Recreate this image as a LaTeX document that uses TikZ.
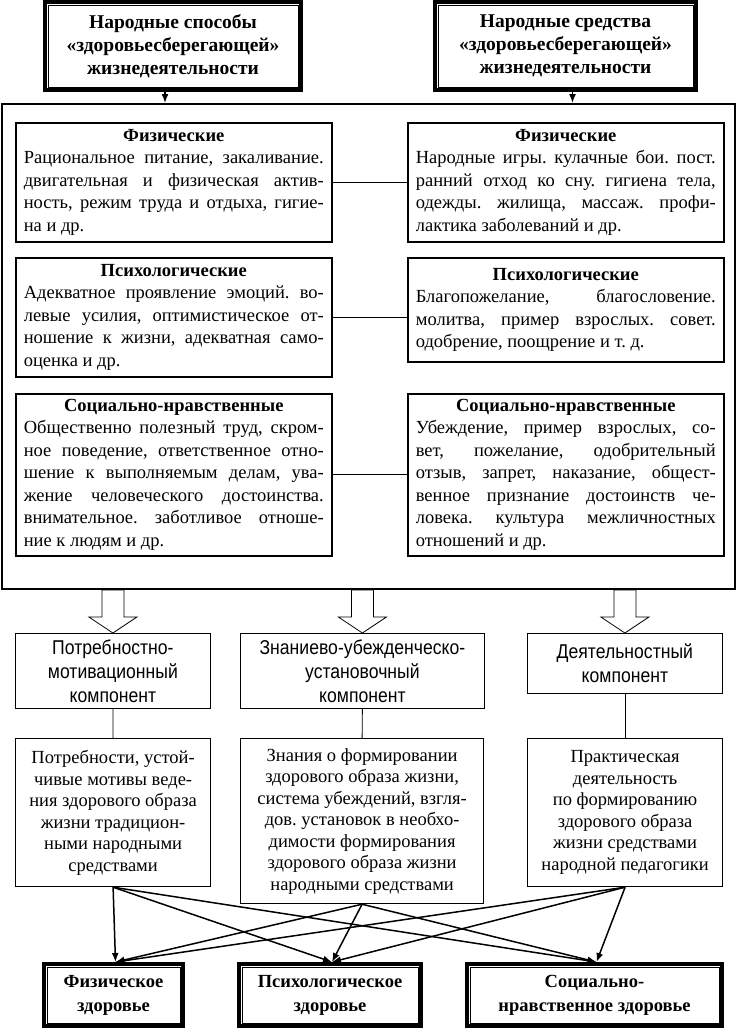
\documentclass[tikz,border=0pt]{standalone}
\usepackage{fontspec}
\setmainfont{Liberation Serif}
\newfontfamily\narrowfont{Liberation Sans}[FakeStretch=0.88]
\usepackage{tikz}
\usetikzlibrary{arrows,arrows.meta}
\setlength\parindent{0pt}
\frenchspacing
\tikzset{
  blk/.style = {anchor=north west, inner sep=0pt,
    font=\fontsize{18.5}{22.5}\selectfont},
  blk_top/.style = {blk, draw, line width=4pt, align=center,
    font=\fontsize{19.5}{23}\selectfont\bfseries},% рамка с внутренней линией
  blk_in/.style = {blk, draw, line width=1.6pt, text width=300pt,
    inner xsep=8pt, align=justify},% способы и средства
  blk_comp/.style = {blk, draw, line width=0.8pt, align=center,
    font=\narrowfont\fontsize{20}{24}\selectfont},% компоненты
  blk_desc/.style = {blk, draw, line width=1.2pt, align=center,
    font=\fontsize{18.5}{21.5}\selectfont},% описание компонента
  blk_hlth/.style = {blk_top, font=\fontsize{18.5}{24}\selectfont\bfseries}% здоровье
}
\newcommand\inhead[1]{\hfill\textbf{#1}\hfill\null\linebreak}

\begin{document}
\begin{tikzpicture}[x=1pt,y=-1pt,>={Latex[length=9pt,width=7pt]}]
  \useasboundingbox (0,0) rectangle (738,1028);
  % верх
  \node [blk_top, minimum width=256pt, minimum height=88pt] (spos) at (43,0)
    {Народные способы\\«здоровьесберегающей»\\жизнедеятельности};
  \node [blk_top, minimum width=261pt, minimum height=88pt] (sred) at (433,0)
    {Народные средства\\«здоровьесберегающей»\\жизнедеятельности};
  \node [blk, draw, line width=2pt, minimum width=733pt, minimum height=485pt] (frame) at (1,103) {};
  \draw [->, line width=1.5pt] ([xshift=-8pt]spos.south) -- ([xshift=-8pt]spos.south |- frame.north);
  \draw [->, line width=1.5pt] ([xshift=7pt]sred.south) -- ([xshift=7pt]sred.south |- frame.north);

  % способы
  \node [blk_in, minimum height=119pt] (fiz_l) at (15,122)
    {\inhead{Физические}Рациональное питание, закаливание.\linebreak
     двигательная и физическая актив-\linebreak
     ность, режим труда и отдыха, гигие-\linebreak
     на и др.};
  \node [blk_in, minimum height=119pt] (psy_l) at (15,257)
    {\inhead{Психологические}Адекватное проявление эмоций. во-\linebreak
     левые усилия, оптимистическое от-\linebreak
     ношение к жизни, адекватная само-\linebreak
     оценка и др.};
  \node [blk_in, minimum height=162pt] (soc_l) at (15,393)
    {\inhead{Социально-нравственные}Общественно полезный труд, скром-\linebreak
     ное поведение, ответственное отно-\linebreak
     шение к выполняемым делам, ува-\linebreak
     жение человеческого достоинства.\linebreak
     внимательное. заботливое отноше-\linebreak
     ние к людям и др.};
  % средства
  \node [blk_in, minimum height=119pt] (fiz_r) at (407,122)
    {\inhead{Физические}Народные игры. кулачные бои. пост.\linebreak
     ранний отход ко сну. гигиена тела,\linebreak
     одежды. жилища, массаж. профи-\linebreak
     лактика заболеваний и др.};
  \node [blk_in, minimum height=104pt] (psy_r) at (407,257)
    {\inhead{Психологические}Благопожелание, благословение.\linebreak
     молитва, пример взрослых. совет.\linebreak
     одобрение, поощрение и т. д.};
  \node [blk_in, minimum height=162pt] (soc_r) at (407,393)
    {\inhead{Социально-нравственные}Убеждение, пример взрослых, со-\linebreak
     вет, пожелание, одобрительный\linebreak
     отзыв, запрет, наказание, общест-\linebreak
     венное признание достоинств че-\linebreak
     ловека. культура межличностных\linebreak
     отношений и др.};
  \draw [line width=1.6pt] (fiz_l.east) -- (fiz_r.west);
  \draw [line width=0.8pt] (psy_l.east) -- (psy_l.east -| psy_r.west);
  \draw [line width=0.8pt] (soc_l.east) -- (soc_r.west);

  % компоненты
  \node [blk_comp, minimum width=195pt, minimum height=75pt] (comp_p) at (15,633)
    {Потребностно-\\мотивационный\\компонент};
  \node [blk_comp, minimum width=244pt, minimum height=75pt] (comp_z) at (240,633)
    {Знаниево-убежденческо-\\установочный\\компонент};
  \node [blk_comp, minimum width=195pt, minimum height=60pt] (comp_d) at (527,633)
    {Деятельностный\\компонент};
  \foreach \c in {comp_p,comp_z,comp_d}
    \draw [line width=0.8pt, fill=white] (\c.north) -- ++(-24,-16) -- ++(13,0)
      -- ([xshift=-11pt]\c.north |- frame.south) -- ([xshift=11pt]\c.north |- frame.south)
      -- ([xshift=11pt,yshift=16pt]\c.north) -- ++(13,0) -- cycle;

  \node [blk_desc, minimum width=195pt, minimum height=148pt] (desc_p) at (15,738)
    {Потребности, устой-\\чивые мотивы веде-\\ния здорового образа\\жизни традицион-\\ными народными\\средствами};
  \node [blk_desc, minimum width=243pt, minimum height=165pt] (desc_z) at (240,738)
    {Знания о формировании\\здорового образа жизни,\\система убеждений, взгля-\\дов. установок в необхо-\\димости формирования\\здорового образа жизни\\народными средствами};
  \node [blk_desc, minimum width=195pt, minimum height=148pt] (desc_d) at (527,738)
    {Практическая\\деятельность\\по формированию\\здорового образа\\жизни средствами\\народной педагогики};
  \draw [line width=0.8pt] (comp_p.south) -- (desc_p.north);
  \draw [line width=0.8pt] (comp_z.south) -- (desc_z.north);
  \draw [line width=0.8pt] (comp_d.south) -- (comp_d.south |- desc_d.north);

  % здоровье
  \node [blk_hlth, minimum width=139pt, minimum height=62pt] (h_fiz) at (42,962)
    {Физическое\\здоровье};
  \node [blk_hlth, minimum width=182pt, minimum height=62pt] (h_psy) at (237,962)
    {Психологическое\\здоровье};
  \node [blk_hlth, minimum width=255pt, minimum height=62pt] (h_soc) at (465,962)
    {Социально-\\нравственное здоровье};
  \foreach \n in {spos,sred,h_fiz,h_psy,h_soc}
    \draw [line width=0.8pt] ([xshift=5pt,yshift=-5pt]\n.north west) rectangle ([xshift=-5pt,yshift=5pt]\n.south east);
  \foreach \src in {desc_p,desc_z,desc_d}
    \foreach \dst in {h_fiz,h_psy,h_soc}
      \draw [->, line width=1.5pt] (\src.south) -- ([xshift=2pt]\dst.north);
\end{tikzpicture}
\end{document}
